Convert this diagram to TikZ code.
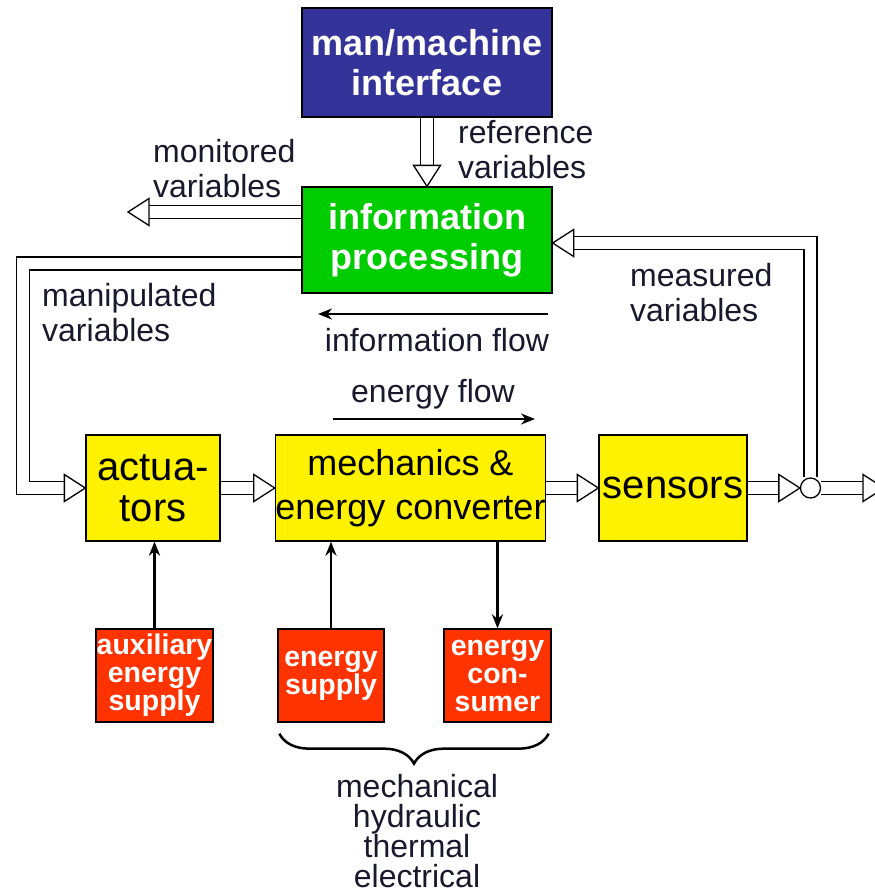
\documentclass[tikz,border=0pt]{standalone}
\usepackage{fontspec}
\setmainfont{Liberation Sans}
\usetikzlibrary{calc,arrows.meta,backgrounds,decorations.pathreplacing}

\definecolor{mmiblue}{RGB}{51,51,153}
\definecolor{ipgreen}{RGB}{0,204,0}
\definecolor{supred}{RGB}{255,51,0}
\definecolor{lblcol}{RGB}{25,25,45}

\tikzset{
  blk/.style={draw=black, line width=1.3pt, inner sep=0pt, align=center},
  topblk/.style={blk, text=white, font=\bfseries\fontsize{36}{40}\selectfont,
                 minimum width=250pt},
  ylwblk/.style={blk, fill=yellow, minimum height=106pt},
  redblk/.style={blk, fill=supred, text=white,
                 font=\bfseries\fontsize{28.5}{28}\selectfont, minimum height=93pt},
  lbl/.style={inner sep=0pt, align=left, text=lblcol,
              font=\fontsize{32}{35}\selectfont},
  dbl/.style={draw=black, line width=1.3pt, double=white, double distance=11.7pt},
  flow/.style={line width=2.5pt},
  ohead/.pic={\draw[line width=1.3pt, fill=white]
                (0,0) -- (-21,13.5) -- (-21,-13.5) -- cycle;},
}

\begin{document}
\begin{tikzpicture}[x=1pt,y=-1pt,>={Stealth[length=14pt,width=11pt]}]
    \useasboundingbox (0,0) rectangle (875,895);

    % blocks
    \node[topblk, fill=mmiblue, minimum height=109pt] (mmi) at (427,62.5)
        {man/machine\\interface};
    \node[topblk, fill=ipgreen, minimum height=106pt] (info) at (427,240)
        {information\\processing};

    \node[ylwblk, minimum width=134pt, font=\fontsize{40}{41}\selectfont]
        (act) at (153,488) {actua-\\tors};
    \node[ylwblk, minimum width=265pt, font=\fontsize{36}{44}\selectfont]
        (mech) at (410.5,488) {mechanics \&\\energy converter};
    \node[ylwblk, minimum width=148pt, font=\fontsize{40}{41}\selectfont]
        (sens) at (673,488) {sensors};
    \node[circle, draw=black, line width=1.3pt, fill=white, inner sep=0pt,
          minimum size=20pt] (jn) at (810.5,488) {};

    \node[redblk, minimum width=117pt] (aux) at (154.5,675.5)
        {auxiliary\\energy\\supply};
    \node[redblk, minimum width=106pt] (esup) at (331,675.5)
        {energy\\supply};
    \node[redblk, minimum width=107pt] (econ) at (497.5,675.5)
        {energy\\con-\\sumer};

    % labels
    \node[lbl, anchor=west] (refv) at (458,150) {reference\\variables};
    \node[lbl, anchor=west] (monv) at (153,168.5) {monitored\\variables};
    \node[lbl, anchor=west] (manv) at (42,313) {manipulated\\variables};
    \node[lbl, anchor=west] (meav) at (630,292.5) {measured\\variables};
    \node[lbl] (infol) at (437,340) {information flow};
    \node[lbl] (enl) at (433,394) {energy flow};
    \node[lbl, align=center, font=\fontsize{32}{30.2}\selectfont] (kinds)
        at (417,831) {mechanical\\hydraulic\\thermal\\electrical};

    \coordinate (monend) at (128,212);
    \coordinate (outend) at (884,488);
    \coordinate (ifs) at (548,314);
    \coordinate (ife) at (318,314);
    \coordinate (efs) at (333,419);
    \coordinate (efe) at (535,419);

    % double arrows
    \begin{scope}[on background layer]
    \draw[dbl] (mmi.south) -- ($(info.north)+(0,-21)$);
    \draw[dbl] (info.west |- monend) -- ($(monend)+(21,0)$);
    \draw[dbl] ($(info.west)+(0,23.5)$) -- ++(-278.5,0) |- ($(act.west)+(-21,0)$);
    \draw[dbl] (act.east) -- ($(mech.west)+(-21,0)$);
    \draw[dbl] (mech.east) -- ($(sens.west)+(-21,0)$);
    \draw[dbl] (sens.east) -- ($(jn.west)+(-21,0)$);
    \draw[dbl] (jn.east) -- ($(outend)+(-21,0)$);
    \draw[dbl] (jn.north) |- ($(info.east)+(21,3)$);
    \end{scope}

    \pic[rotate=-90] at (info.north) {ohead};
    \pic[rotate=180] at (monend) {ohead};
    \pic at (act.west) {ohead};
    \pic at (mech.west) {ohead};
    \pic at (sens.west) {ohead};
    \pic at (jn.west) {ohead};
    \pic at (outend) {ohead};
    \pic[rotate=180] at ($(info.east)+(0,3)$) {ohead};

    % flows
    \draw[flow,->] (ifs) -- (ife);
    \draw[flow,->] (efs) -- (efe);
    \draw[flow,->] (aux.north) -- (aux.north |- act.south);
    \draw[flow,->] (esup.north) -- (esup.north |- mech.south);
    \draw[flow,->] (mech.south -| econ.north) -- (econ.north);

    \draw[flow, decorate, decoration={brace, amplitude=30pt}]
        ($(econ.south east)+(-3,11)$) -- ($(esup.south west)+(2,11)$);

\end{tikzpicture}
\end{document}
